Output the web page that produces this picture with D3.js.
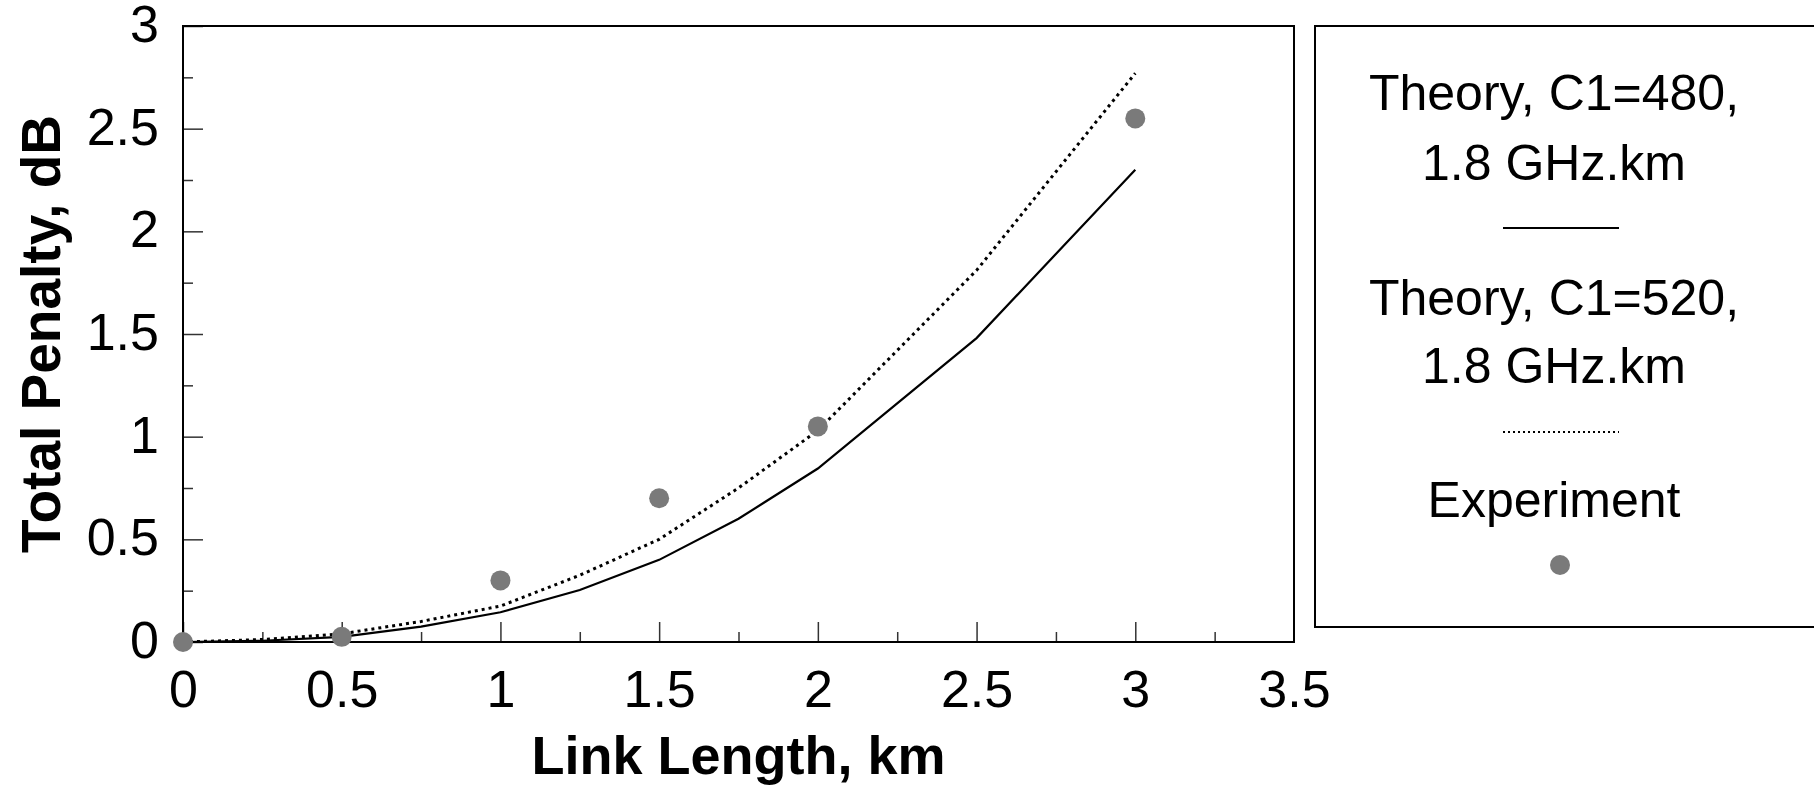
<!DOCTYPE html>
<html>
<head>
<meta charset="utf-8">
<script src="https://cdn.jsdelivr.net/npm/d3@7"></script>
<style>
  body { margin: 0; background: #fff; }
  svg text { font-family: "Liberation Sans", Arial, sans-serif; fill: #000; }
</style>
</head>
<body>
<div id="chart"></div>
<script>
// data
const lengthKm = [0, 0.25, 0.5, 0.75, 1, 1.25, 1.5, 1.75, 2, 2.5, 3];
const theory480 = [0, 0.006, 0.025, 0.075, 0.145, 0.253, 0.4, 0.6, 0.845, 1.48, 2.3];
const theory520 = [0, 0.012, 0.04, 0.1, 0.175, 0.325, 0.5, 0.75, 1.03, 1.81, 2.77];
const expLength = [0, 0.5, 1, 1.5, 2, 3];
const expPenalty = [0, 0.025, 0.3, 0.7, 1.05, 2.55];
const xMajor = [0, 0.5, 1, 1.5, 2, 2.5, 3, 3.5];
const xMinor = [0.25, 0.75, 1.25, 1.75, 2.25, 2.75, 3.25];
const yMajor = [0, 0.5, 1, 1.5, 2, 2.5, 3];
const yMinor = [0.25, 0.75, 1.25, 1.75, 2.25, 2.75];
const legendLabels = [
  ["Theory, C1=480,", "1.8 GHz.km"],
  ["Theory, C1=520,", "1.8 GHz.km"],
  ["Experiment"]
];

function drawChart(cWidth, cHeight) {
  const margin = { left: 183, top: 26, right: 520, bottom: 144 },
    w = cWidth - margin.left - margin.right,
    h = cHeight - margin.top - margin.bottom,
    dotColor = "#7a7a7a",
    svg = d3
      .select("#chart")
      .append("svg")
      .attr("width", cWidth)
      .attr("height", cHeight);

  const g = svg
      .append("g")
      .attr("transform", `translate(${margin.left}, ${margin.top})`),
    x = d3.scaleLinear().domain([0, 3.5]).range([0, w]),
    y = d3.scaleLinear().domain([0, 3]).range([h, 0]);

  // minor ticks
  g.append("g")
    .attr("transform", `translate(0, ${h})`)
    .call(d3.axisBottom(x).tickValues(xMinor).tickSize(-10).tickFormat(""));
  g.append("g")
    .call(d3.axisLeft(y).tickValues(yMinor).tickSize(-10).tickFormat(""));

  // major ticks
  const xAxis = g
      .append("g")
      .attr("transform", `translate(0, ${h})`)
      .call(d3.axisBottom(x).tickValues(xMajor).tickSize(-20).tickPadding(28).tickFormat(d3.format("~g"))),
    yAxis = g
      .append("g")
      .call(d3.axisLeft(y).tickValues(yMajor).tickSize(-20).tickPadding(24).tickFormat(d3.format("~g")));

  g.selectAll(".domain").remove();
  g.selectAll(".tick line").attr("stroke", "#333").attr("stroke-width", 1.5);
  xAxis.selectAll(".tick text").style("font-size", "52px");
  yAxis.selectAll(".tick text").style("font-size", "52px").attr("dy", "0.3em");
  // no tick mark on the right frame
  xAxis.selectAll(".tick").filter(d => d === 3.5).select("line").remove();

  // frame
  g.append("rect")
    .attr("width", w)
    .attr("height", h)
    .attr("fill", "none")
    .attr("stroke", "#000")
    .attr("stroke-width", 2);

  // axis titles
  g.append("text")
    .attr("x", w / 2)
    .attr("y", h + 132)
    .attr("text-anchor", "middle")
    .style("font-size", "54px")
    .style("font-weight", "bold")
    .text("Link Length, km");
  g.append("text")
    .attr("transform", `translate(${-123}, ${h / 2}) rotate(-90)`)
    .attr("text-anchor", "middle")
    .style("font-size", "55px")
    .style("font-weight", "bold")
    .text("Total Penalty, dB");

  const line = d3
    .line()
    .x(d => x(d[0]))
    .y(d => y(d[1]));

  g.append("path")
    .datum(d3.zip(lengthKm, theory480))
    .attr("fill", "none")
    .attr("stroke", "#000")
    .attr("stroke-width", 2.2)
    .attr("d", line);

  g.append("path")
    .datum(d3.zip(lengthKm, theory520))
    .attr("fill", "none")
    .attr("stroke", "#000")
    .attr("stroke-width", 3)
    .attr("stroke-dasharray", "3,4")
    .attr("d", line);

  g.selectAll(".dot")
    .data(d3.zip(expLength, expPenalty))
    .enter()
    .append("circle")
    .attr("cx", d => x(d[0]))
    .attr("cy", d => y(d[1]))
    .attr("r", 10)
    .attr("fill", dotColor);

  // legend box
  const lg = svg.append("g").attr("transform", "translate(1315, 26)"),
    cx = 239;
  lg.append("rect")
    .attr("width", 520)
    .attr("height", 601)
    .attr("fill", "none")
    .attr("stroke", "#000")
    .attr("stroke-width", 2);

  const baselines = [[84, 154], [289, 357], [491]];
  legendLabels.forEach((lines, i) => {
    lines.forEach((t, j) => {
      lg.append("text")
        .attr("x", cx)
        .attr("y", baselines[i][j])
        .attr("text-anchor", "middle")
        .style("font-size", "50px")
        .text(t);
    });
  });
  lg.append("line")
    .attr("x1", 1503 - 1315).attr("x2", 1619 - 1315)
    .attr("y1", 202).attr("y2", 202)
    .attr("stroke", "#000").attr("stroke-width", 2);
  lg.append("line")
    .attr("x1", 1503 - 1315).attr("x2", 1619 - 1315)
    .attr("y1", 406).attr("y2", 406)
    .attr("stroke", "#000").attr("stroke-width", 2)
    .attr("stroke-dasharray", "2,3");
  lg.append("circle")
    .attr("cx", 1560 - 1315).attr("cy", 539).attr("r", 10)
    .attr("fill", dotColor);
}

drawChart(1814, 786);
</script>
</body>
</html>
